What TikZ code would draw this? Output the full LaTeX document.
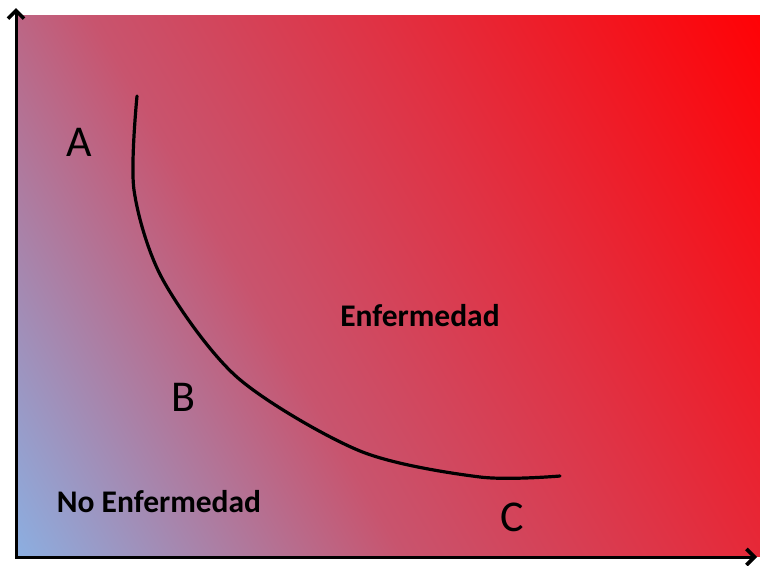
\documentclass[tikz,border=0pt]{standalone}
\usepackage{fontspec}
\setmainfont{Carlito}
\usepackage{xcolor}
\usepackage{tikz}
\usetikzlibrary{arrows.meta, positioning}

\definecolor{lowblue}{RGB}{140,174,224}
\definecolor{midpink}{RGB}{200,84,110}
\definecolor{midred}{RGB}{224,50,68}
\definecolor{topred}{RGB}{255,2,6}
\pgfdeclareverticalshading{bgshade}{100bp}{color(0bp)=(lowblue); color(15.85bp)=(lowblue); color(40.85bp)=(midpink); color(59.15bp)=(midred); color(84.15bp)=(topred); color(100bp)=(topred)}

\begin{document}
\begin{tikzpicture}[x=1pt, y=-1pt,
    letter/.style={inner sep=0pt, font=\fontsize{44}{50}\selectfont},
    region/.style={inner sep=0pt, font=\fontsize{31.5}{38}\selectfont\bfseries},
    axis/.style={draw=black, line width=3pt, {Straight Barb[length=8pt, width=16pt, line width=3.6pt]}-{Straight Barb[length=8pt, width=16pt, line width=3.6pt]}},
    border/.style={draw=black, line width=3.2pt, line cap=round}]

    \useasboundingbox (0,0) rectangle (760,565);
    \shade[shading=bgshade, shading angle=-60] (16,15) rectangle (760,556);

    % axes
    \coordinate (ytip) at (16,8);
    \coordinate (xtip) at (757,557);
    \draw [axis] (ytip) |- (xtip);

    % boundary between the two regions
    \draw [border] plot[smooth] coordinates {(137,96) (134,190) (163,280) (238,378) (360,451) (480,477) (560,476)};

    \node [letter] (lblA) at (79,142) {A};
    \node [letter] (lblB) at (183,397) {B};
    \node [letter] (lblC) at (512,517) {C};
    \node [region] (enf) at (420,316) {Enfermedad};
    \node [region] (noenf) at (159,502) {No Enfermedad};

\end{tikzpicture}
\end{document}
